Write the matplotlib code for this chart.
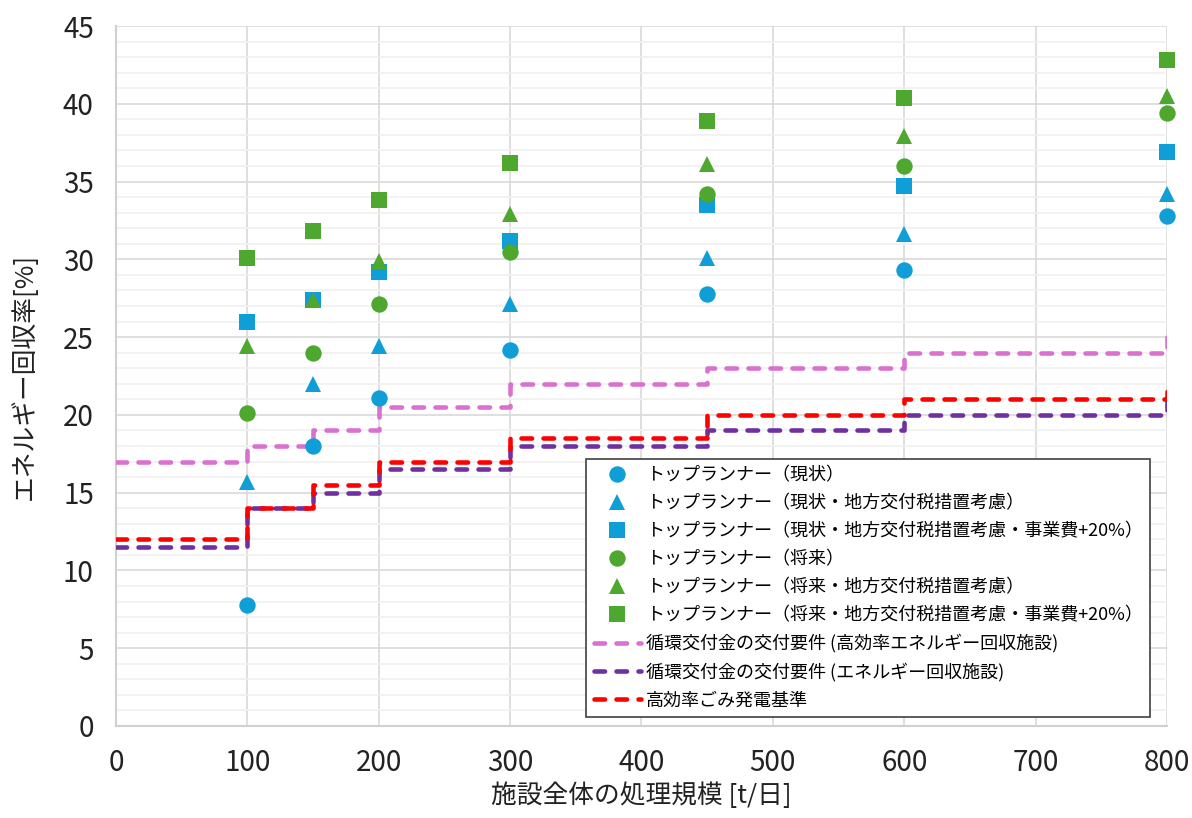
import numpy as np
import matplotlib
matplotlib.use("Agg")
import matplotlib.pyplot as plt
from matplotlib.ticker import MultipleLocator

plt.rcParams['font.family'] = ['Noto Sans CJK JP', 'DejaVu Sans']

# Scale of facility [t/day] for the Top Runner points
scale = [100, 150, 200, 300, 450, 600, 800]

# Energy recovery rate [%]
now_base = [7.8, 18.0, 21.1, 24.2, 27.8, 29.3, 32.8]
now_tax = [15.7, 22.0, 24.4, 27.1, 30.1, 31.6, 34.2]
now_tax_cost = [26.0, 27.4, 29.2, 31.2, 33.5, 34.7, 36.9]
fut_base = [20.1, 24.0, 27.1, 30.5, 34.2, 36.0, 39.4]
fut_tax = [24.4, 27.4, 29.9, 32.9, 36.1, 37.9, 40.5]
fut_tax_cost = [30.1, 31.8, 33.8, 36.2, 38.9, 40.4, 42.8]

# Requirement steps (value applies from this scale upward)
step_x = [0, 100, 150, 200, 300, 450, 600, 800]
req_high = [17, 18, 19, 20.5, 22, 23, 24, 25]
req_energy = [11.5, 14, 15, 16.5, 18, 19, 20, 21]
req_power = [12, 14, 15.5, 17, 18.5, 20, 21, 22]

labels_pts = [
    "トップランナー（現状）",
    "トップランナー（現状・地方交付税措置考慮）",
    "トップランナー（現状・地方交付税措置考慮・事業費+20%）",
    "トップランナー（将来）",
    "トップランナー（将来・地方交付税措置考慮）",
    "トップランナー（将来・地方交付税措置考慮・事業費+20%）",
]
labels_lines = [
    "循環交付金の交付要件 (高効率エネルギー回収施設)",
    "循環交付金の交付要件 (エネルギー回収施設)",
    "高効率ごみ発電基準",
]

blue = "#0F9ED5"
green = "#4EA72E"

fig = plt.figure(figsize=(11.92, 8.18), dpi=100)
ax = fig.add_axes([0.0973, 0.1125, 0.8817, 0.8557])

# step lines
lw = 3.3
dash = (2.3, 2.5)
line_handles = []
for vals, col, lab in [(req_high, "#DA70D0", labels_lines[0]),
                       (req_energy, "#7030A0", labels_lines[1]),
                       (req_power, "#FF0000", labels_lines[2])]:
    h, = ax.plot(step_x, vals, drawstyle="steps-post", color=col, lw=lw,
                 dashes=dash, dash_capstyle="round", label=lab, zorder=3)
    line_handles.append(h)

# scatter series
series = [
    (now_base, "o", blue),
    (now_tax, "^", blue),
    (now_tax_cost, "s", blue),
    (fut_base, "o", green),
    (fut_tax, "^", green),
    (fut_tax_cost, "s", green),
]
pt_handles = []
for (vals, mk, col), lab in zip(series, labels_pts):
    h, = ax.plot(scale, vals, linestyle="none", marker=mk, color=col,
                 markersize=11.8, markeredgewidth=0, label=lab, zorder=4,
                 clip_on=False)
    pt_handles.append(h)

ax.set_xlim(0, 800)
ax.set_ylim(0, 45)
ax.xaxis.set_major_locator(MultipleLocator(100))
ax.yaxis.set_major_locator(MultipleLocator(5))
ax.yaxis.set_minor_locator(MultipleLocator(1))
ax.grid(which="major", color="#D9D9D9", lw=1.2, zorder=0)
ax.grid(which="minor", axis="y", color="#F0F0F0", lw=1.2, zorder=0)
ax.set_axisbelow(True)
ax.tick_params(which="both", length=0, colors="#222222")
ax.tick_params(axis="x", pad=16)
ax.tick_params(axis="y", pad=16)
for t in ax.xaxis.get_majorticklabels() + ax.yaxis.get_majorticklabels():
    t.set_fontsize(20)
for s in ["top", "right"]:
    ax.spines[s].set_visible(False)
for s in ["left", "bottom"]:
    ax.spines[s].set_color("#D0D0D0")
    ax.spines[s].set_linewidth(1.5)

ax.set_xlabel("施設全体の処理規模 [t/日]", fontsize=18.5, color="#222222", labelpad=3)
ax.set_ylabel("エネルギー回収率[%]", fontsize=18.5, color="#222222", labelpad=18)

leg = ax.legend(pt_handles + line_handles, labels_pts + labels_lines,
                loc="lower right", bbox_to_anchor=(0.984, 0.013),
                borderaxespad=0, fontsize=13, frameon=True, fancybox=False,
                edgecolor="#404040", framealpha=1, handlelength=2.6,
                handletextpad=0.3, labelspacing=0.55, borderpad=0.4)
leg.get_frame().set_linewidth(1.2)

fig.savefig("out.png", dpi=100)
